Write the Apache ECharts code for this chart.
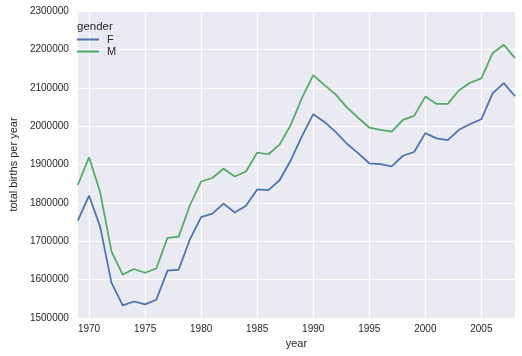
<!DOCTYPE html>
<html>
<head>
<meta charset="utf-8">
<script src="https://cdn.jsdelivr.net/npm/echarts@6/dist/echarts.min.js"></script>
<style>html,body{margin:0;padding:0;background:#fff;}#c{width:522px;height:356px;}</style>
</head>
<body>
<div id="c"></div>
<script>
const years = [1969,1970,1971,1972,1973,1974,1975,1976,1977,1978,1979,1980,1981,1982,1983,1984,1985,1986,1987,1988,1989,1990,1991,1992,1993,1994,1995,1996,1997,1998,1999,2000,2001,2002,2003,2004,2005,2006,2007,2008];
const births_F = [1753634,1819164,1736774,1592347,1533102,1543005,1535546,1547613,1623363,1626324,1705130,1763028,1771795,1797969,1774809,1792234,1835038,1833109,1858932,1911104,1973694,2031078,2010908,1984842,1954116,1929810,1903234,1901014,1895298,1922813,1932563,1981845,1968011,1963747,1990326,2005377,2017979,2085200,2111890,2077929];
const births_M = [1846572,1918636,1826774,1673888,1613023,1627626,1618010,1628863,1708796,1711976,1793812,1855617,1864779,1888918,1868875,1881739,1930830,1926709,1951778,2003118,2073843,2132694,2106816,2082804,2048798,2021892,1996355,1990480,1985596,2016205,2026854,2076969,2057922,2057979,2093535,2112989,2124516,2190026,2212118,2177227];
const xTicks = [1970,1975,1980,1985,1990,1995,2000,2005];
const yTicks = [1500000,1600000,1700000,1800000,1900000,2000000,2100000,2200000,2300000];

const font = 'Liberation Sans, Arial, sans-serif';
const txt = '#262626';
const chart = echarts.init(document.getElementById('c'), null, {renderer: 'canvas'});
chart.setOption({
  animation: false,
  backgroundColor: '#ffffff',
  title: {
    text: 'gender', left: 77, top: 21, padding: 0,
    textStyle: {fontFamily: font, fontSize: 11.5, fontWeight: 'normal', color: txt}
  },
  legend: {
    orient: 'vertical', left: 77, top: 34, itemGap: 1, padding: 0,
    itemWidth: 22, itemHeight: 2, icon: 'rect',
    textStyle: {fontFamily: font, fontSize: 11, color: txt, padding: [0,0,0,3]},
    data: ['F', 'M']
  },
  grid: {left: 69, right: 7, top: 11, bottom: 38, backgroundColor: '#EAEAF2', show: true, borderWidth: 0},
  xAxis: {
    type: 'value', min: 1969, max: 2008,
    name: 'year', nameLocation: 'middle', nameGap: 19,
    nameTextStyle: {fontFamily: font, fontSize: 11, color: txt},
    axisLine: {show: false},
    axisTick: {show: false, customValues: xTicks},
    axisLabel: {customValues: xTicks, fontFamily: font, fontSize: 10, color: txt, margin: 6,
                formatter: v => String(v)},
    splitLine: {show: true, lineStyle: {color: '#ffffff', width: 1}}
  },
  yAxis: {
    type: 'value', min: 1500000, max: 2300000, interval: 100000,
    name: 'total births per year', nameLocation: 'middle', nameGap: 52,
    nameTextStyle: {fontFamily: font, fontSize: 11, color: txt},
    axisLine: {show: false},
    axisTick: {show: false, customValues: yTicks},
    axisLabel: {customValues: yTicks, fontFamily: font, fontSize: 10, color: txt, margin: 9,
                formatter: v => String(v)},
    splitLine: {show: true, lineStyle: {color: '#ffffff', width: 1}}
  },
  series: [
    {name: 'F', type: 'line', symbol: 'none', color: '#4C72B0', lineStyle: {width: 1.75},
     data: years.map((y, i) => [y, births_F[i]])},
    {name: 'M', type: 'line', symbol: 'none', color: '#55A868', lineStyle: {width: 1.75},
     data: years.map((y, i) => [y, births_M[i]])}
  ]
});
</script>
</body>
</html>
